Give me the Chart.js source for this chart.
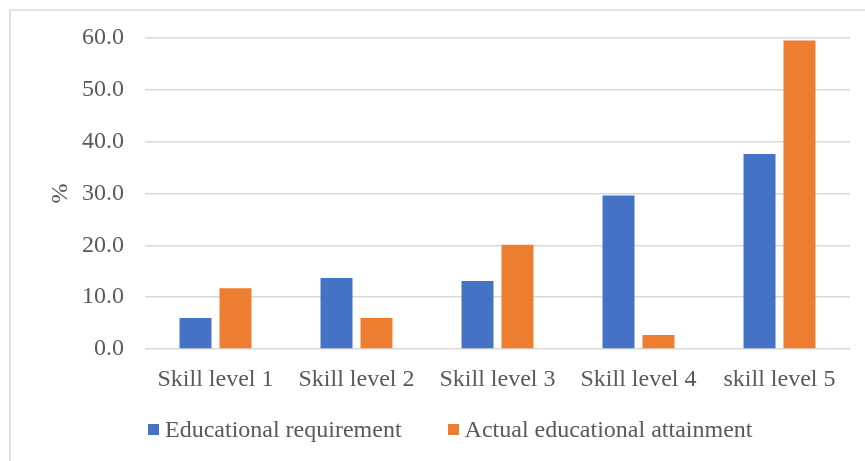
<!DOCTYPE html>
<html>
<head>
<meta charset="utf-8">
<script src="https://cdn.jsdelivr.net/npm/chart.js@4"></script>
<style>
  html, body { margin: 0; padding: 0; background: #fff; }
  #wrap { position: relative; width: 865px; height: 461px; }
  canvas { display: block; }
  #legend {
    position: absolute; left: 148px; top: 417px;
    display: flex; align-items: center;
    font-family: 'Liberation Serif', 'Times New Roman', serif;
    font-size: 24px; line-height: 24px; color: #595959;
    white-space: nowrap;
  }
  #legend .item { display: flex; align-items: center; }
  #legend .item + .item { margin-left: 46px; }
  #legend .box { width: 11px; height: 11px; margin-right: 6px; }
</style>
</head>
<body>
<div id="wrap">
  <canvas id="chart" width="865" height="461"></canvas>
  <div id="legend"></div>
</div>
<script>
const categories = ['Skill level 1', 'Skill level 2', 'Skill level 3', 'Skill level 4', 'skill level 5'];
const requirement = [6.0, 13.7, 13.1, 29.6, 37.6];
const attainment = [11.7, 6.0, 20.1, 2.7, 59.5];
const seriesNames = ['Educational requirement', 'Actual educational attainment'];

const FONT = { family: "'Liberation Serif', 'Times New Roman', serif", size: 24 };
const TEXT = '#595959';

// --- light frame, only top and left edges show in the crop ---
const framePlugin = {
  id: 'frame',
  beforeDraw(chart) {
    const ctx = chart.ctx;
    ctx.save();
    ctx.strokeStyle = '#d9d9d9';
    ctx.lineWidth = 1.5;
    ctx.beginPath();
    ctx.moveTo(10, 461);
    ctx.lineTo(10, 10);
    ctx.lineTo(865, 10);
    ctx.stroke();
    ctx.restore();
  },
};

const chart = new Chart(document.getElementById('chart'), {
  type: 'bar',
  data: {
    labels: categories,
    datasets: [
      { label: seriesNames[0], data: requirement, backgroundColor: '#4472C4' },
      { label: seriesNames[1], data: attainment, backgroundColor: '#ED7D31' },
    ],
  },
  plugins: [framePlugin],
  options: {
    responsive: false,
    animation: false,
    devicePixelRatio: 1,
    categoryPercentage: 0.567,
    barPercentage: 0.8,
    layout: { padding: { top: 38, right: 15, left: 0, bottom: 52 } },
    plugins: {
      tooltip: { enabled: false },
      legend: { display: false },
    },
    scales: {
      x: {
        grid: { display: false, drawTicks: false },
        border: { display: false },
        ticks: { color: TEXT, font: FONT, padding: 16, maxRotation: 0 },
        afterFit: s => { s.height = 60; },
      },
      y: {
        min: 0,
        max: 60,
        grid: { color: '#d9d9d9', lineWidth: 1.5, drawTicks: false },
        border: { display: false },
        ticks: {
          stepSize: 10,
          color: TEXT,
          font: FONT,
          padding: 21,
          callback: v => v.toFixed(1),
        },
        title: {
          display: true,
          text: '%',
          color: TEXT,
          font: FONT,
          padding: { top: 46, bottom: 0 },
        },
        afterFit: s => { s.width = 145; },
      },
    },
  },
});

// --- HTML legend built from the datasets ---
const legendEl = document.getElementById('legend');
chart.data.datasets.forEach(ds => {
  const item = document.createElement('div');
  item.className = 'item';
  const box = document.createElement('span');
  box.className = 'box';
  box.style.background = ds.backgroundColor;
  const txt = document.createElement('span');
  txt.textContent = ds.label;
  item.appendChild(box);
  item.appendChild(txt);
  legendEl.appendChild(item);
});
</script>
</body>
</html>
